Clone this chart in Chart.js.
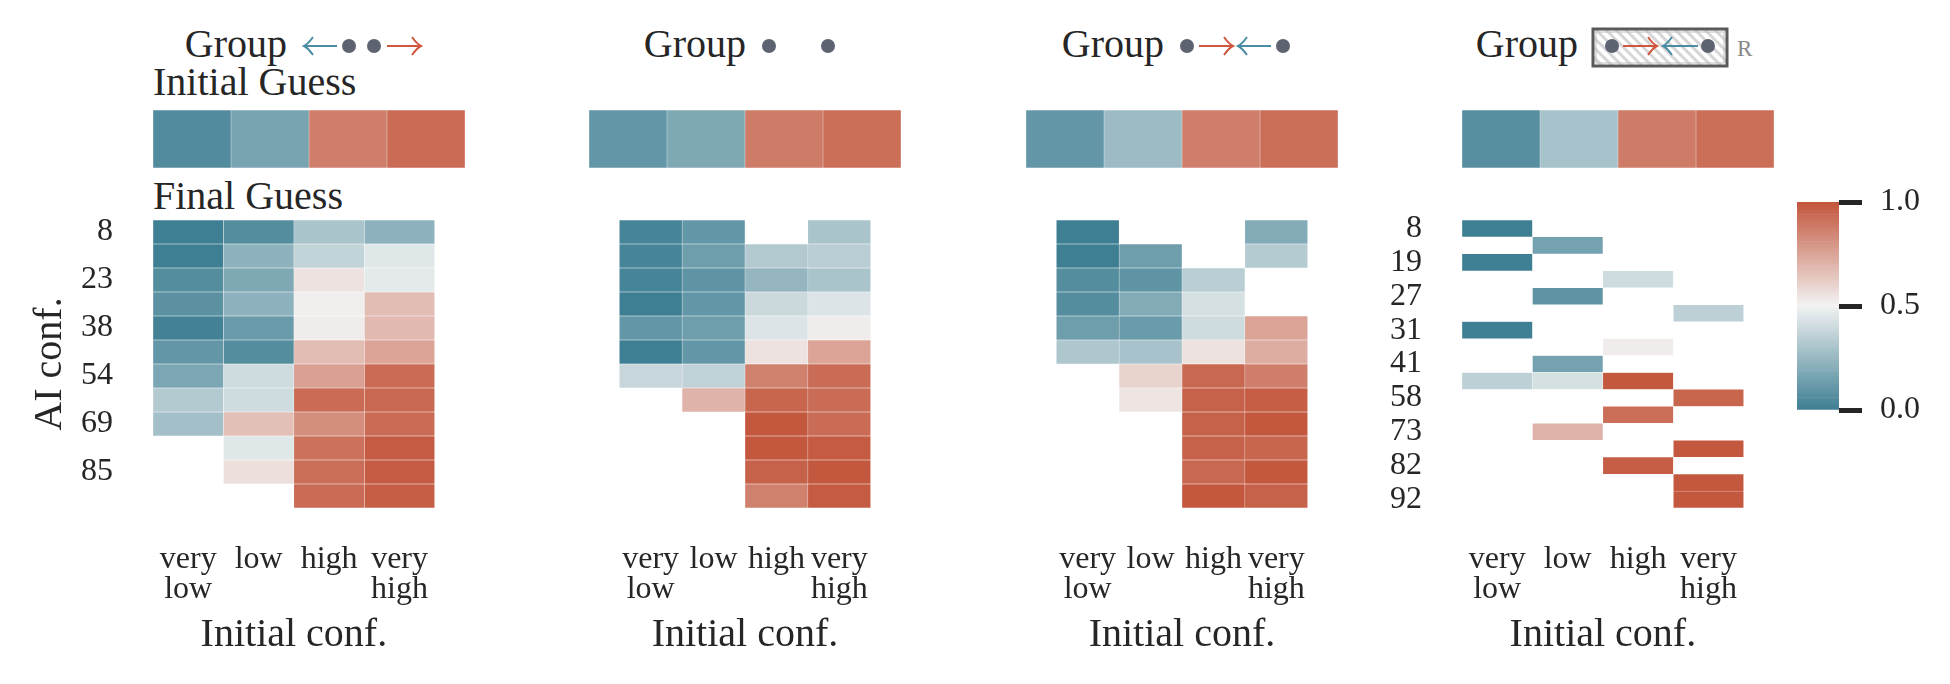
<!DOCTYPE html>
<html>
<head>
<meta charset="utf-8">
<script src="https://cdn.jsdelivr.net/npm/chart.js@4.4.1/dist/chart.umd.min.js"></script>
<style>
  body { margin: 0; background: #fff; width: 1950px; height: 684px; position: relative; overflow: hidden; }
  canvas, svg { position: absolute; }
</style>
</head>
<body>
<svg width="1950" height="684" style="left:0;top:0" font-family="Liberation Serif, serif" fill="#262626">
  <defs>
    <pattern id="hatch" width="7" height="7" patternUnits="userSpaceOnUse" patternTransform="rotate(-45)">
      <rect width="7" height="7" fill="#fff"/>
      <line x1="1.5" y1="0" x2="1.5" y2="7" stroke="#d6d6d6" stroke-width="3"/>
    </pattern>
  </defs>
  <g id="titles" font-size="40"></g>
  <g id="deco"></g>
</svg>

<canvas id="top1" width="312" height="58" style="left:153px;top:110px"></canvas>
<canvas id="top2" width="312" height="58" style="left:589px;top:110px"></canvas>
<canvas id="top3" width="312" height="58" style="left:1026px;top:110px"></canvas>
<canvas id="top4" width="312" height="58" style="left:1462px;top:110px"></canvas>

<canvas id="heat1" width="465" height="494" style="left:0px;top:190px"></canvas>
<canvas id="heat2" width="312" height="494" style="left:589px;top:190px"></canvas>
<canvas id="heat3" width="312" height="494" style="left:1026px;top:190px"></canvas>
<canvas id="heat4" width="412" height="494" style="left:1362px;top:190px"></canvas>

<canvas id="cbar" width="192" height="268" style="left:1797px;top:172px"></canvas>

<script>
// categories and tick labels
const initConfLabels = [['very', 'low'], ['low'], ['high'], ['very', 'high']];
const aiConfLabels = ['8', '', '23', '', '38', '', '54', '', '69', '', '85', ''];
const aiConfLabelsR = ['8', '', '19', '', '27', '', '31', '', '41', '', '58', '', '73', '', '82', '', '92'];
const cbarTicks = [0, 0.5, 1.0];

// initial guess (one row per panel)
const initial1 = [0.05, 0.16, 0.87, 0.93];
const initial2 = [0.10, 0.18, 0.88, 0.92];
const initial3 = [0.10, 0.26, 0.87, 0.92];
const initial4 = [0.07, 0.29, 0.88, 0.92];

// final guess, rows = AI conf. bins, cols = initial conf.
const final1 = [
  [0.00, 0.06, 0.30, 0.22],
  [0.00, 0.22, 0.37, 0.45],
  [0.06, 0.18, 0.55, 0.46],
  [0.08, 0.22, 0.51, 0.67],
  [0.01, 0.12, 0.52, 0.68],
  [0.10, 0.06, 0.67, 0.75],
  [0.17, 0.40, 0.76, 0.93],
  [0.32, 0.40, 0.93, 0.94],
  [0.28, 0.66, 0.82, 0.93],
  [null, 0.45, 0.91, 0.98],
  [null, 0.56, 0.92, 0.98],
  [null, null, 0.93, 0.97]
];
const final2 = [
  [0.02, 0.10, null, 0.30],
  [0.02, 0.13, 0.32, 0.34],
  [0.02, 0.09, 0.24, 0.30],
  [0.00, 0.10, 0.39, 0.44],
  [0.10, 0.13, 0.44, 0.52],
  [0.00, 0.10, 0.55, 0.75],
  [0.38, 0.36, 0.86, 0.93],
  [null, 0.70, 0.95, 0.93],
  [null, null, 0.99, 0.93],
  [null, null, 0.99, 0.98],
  [null, null, 0.96, 0.99],
  [null, null, 0.86, 0.98]
];
const final3 = [
  [0.00, null, null, 0.19],
  [0.00, 0.13, null, 0.33],
  [0.06, 0.09, 0.34, null],
  [0.06, 0.19, 0.42, null],
  [0.13, 0.12, 0.40, 0.75],
  [0.31, 0.29, 0.55, 0.72],
  [null, 0.60, 0.94, 0.87],
  [null, 0.54, 0.96, 0.97],
  [null, null, 0.96, 0.99],
  [null, null, 0.96, 0.95],
  [null, null, 0.94, 0.99],
  [null, null, 0.99, 0.96]
];
const final4 = [
  [0.00, null, null, null],
  [null, 0.15, null, null],
  [0.00, null, null, null],
  [null, null, 0.40, null],
  [null, 0.09, null, null],
  [null, null, null, 0.35],
  [0.00, null, null, null],
  [null, null, 0.52, null],
  [null, 0.15, null, null],
  [0.35, 0.42, 0.99, null],
  [null, null, null, 0.95],
  [null, null, 0.92, null],
  [null, 0.70, null, null],
  [null, null, null, 0.99],
  [null, null, 0.97, null],
  [null, null, null, 0.99],
  [null, null, null, 0.99]
];

const FONT = 'Liberation Serif';
const INK = '#262626';
const LOW = [63, 127, 147], MID = [242, 242, 242], HIGH = [195, 85, 59];

function cmap(v) {
  let a, b, t;
  if (v < 0.5) { a = LOW; b = MID; t = v / 0.5; }
  else { a = MID; b = HIGH; t = (v - 0.5) / 0.5; }
  const c = a.map((x, i) => Math.round(x + (b[i] - x) * t));
  return 'rgb(' + c.join(',') + ')';
}

function heatDatasets(rows) {
  return [0, 1, 2, 3].map(c => ({
    data: rows.map(r => r[c] == null ? null : [c, c + 1]),
    backgroundColor: rows.map(r => r[c] == null ? 'rgba(0,0,0,0)' : cmap(r[c])),
    borderColor: 'rgba(255,255,255,0.3)',
    borderWidth: 0.5,
    borderSkipped: false,
    grouped: false,
    barPercentage: 1,
    categoryPercentage: 1
  }));
}

const common = {
  indexAxis: 'y',
  responsive: false,
  animation: false,
  devicePixelRatio: 1,
  plugins: { legend: { display: false }, tooltip: { enabled: false } }
};

// tick padding would otherwise push the plot area down
function noVPad(s) { s.paddingTop = 0; s.paddingBottom = 0; }

function topBar(id, vals) {
  new Chart(document.getElementById(id), {
    type: 'bar',
    data: { labels: [''], datasets: heatDatasets([vals]) },
    options: Object.assign({}, common, {
      layout: { padding: 0 },
      scales: {
        x: { type: 'linear', min: 0, max: 4, display: false },
        y: { display: false }
      }
    })
  });
}

function heatmap(id, rows, labels, yOpts) {
  const y = {
    type: 'category',
    display: !!yOpts,
    grid: { display: false, drawTicks: false },
    border: { display: false },
    ticks: { autoSkip: false, padding: 40, color: INK, font: { family: FONT, size: 32 } }
  };
  if (yOpts) {
    y.afterFit = s => { s.width = yOpts.width; noVPad(s); };
    if (yOpts.title) {
      y.title = { display: true, text: yOpts.title, color: INK, font: { family: FONT, size: 40 }, padding: { top: 26, bottom: 0 } };
    }
  }
  new Chart(document.getElementById(id), {
    type: 'bar',
    data: { labels: labels, datasets: heatDatasets(rows) },
    options: Object.assign({}, common, {
      layout: { padding: { top: 30, left: 0, right: 0, bottom: 0 } },
      scales: {
        x: {
          type: 'linear', min: 0, max: 4,
          grid: { display: false, drawTicks: false },
          border: { display: false },
          afterBuildTicks: s => { s.ticks = initConfLabels.map((l, i) => ({ value: i + 0.5 })); },
          afterFit: s => { s.height = 176; },
          ticks: {
            autoSkip: false, maxRotation: 0, padding: 37, color: INK,
            font: { family: FONT, size: 32, lineHeight: '30px' },
            callback: (v, i) => initConfLabels[i]
          },
          title: { display: true, text: 'Initial conf.', color: INK, font: { family: FONT, size: 40 }, padding: { top: 0, bottom: 25 } }
        },
        y: y
      }
    })
  });
}

topBar('top1', initial1);
topBar('top2', initial2);
topBar('top3', initial3);
topBar('top4', initial4);

heatmap('heat1', final1, aiConfLabels, { width: 153, title: 'AI conf.' });
heatmap('heat2', final2, aiConfLabels, null);
heatmap('heat3', final3, aiConfLabels, null);
heatmap('heat4', final4, aiConfLabelsR, { width: 100 });

// colour bar
const cbSlices = 100;
new Chart(document.getElementById('cbar'), {
  type: 'bar',
  data: {
    labels: [''],
    datasets: Array.from({ length: cbSlices }, (_, i) => ({
      data: [[i / cbSlices, (i + 1) / cbSlices]],
      backgroundColor: cmap((i + 0.5) / cbSlices),
      borderWidth: 0,
      grouped: false,
      barPercentage: 1,
      categoryPercentage: 1
    }))
  },
  options: Object.assign({}, common, {
    indexAxis: 'x',
    layout: { padding: { top: 30, bottom: 30, left: 0, right: 0 } },
    scales: {
      x: { display: false },
      y: {
        position: 'right', min: 0, max: 1,
        afterBuildTicks: s => { s.ticks = cbarTicks.map(v => ({ value: v })); },
        afterFit: s => { s.width = 150; noVPad(s); },
        grid: { drawOnChartArea: false, drawTicks: true, tickLength: 23, tickWidth: 5, tickColor: INK },
        border: { display: false },
        ticks: { padding: 18, color: INK, font: { family: FONT, size: 32 }, callback: v => v.toFixed(1) }
      }
    }
  })
});

// titles and group glyphs
const NS = 'http://www.w3.org/2000/svg';
function el(parent, tag, attrs, text) {
  const e = document.createElementNS(NS, tag);
  for (const k in attrs) e.setAttribute(k, attrs[k]);
  if (text) e.textContent = text;
  document.getElementById(parent).appendChild(e);
  return e;
}
const titles = [
  { x: 287, y: 57, text: 'Group', anchor: 'end' },
  { x: 746, y: 57, text: 'Group', anchor: 'end' },
  { x: 1164, y: 57, text: 'Group', anchor: 'end' },
  { x: 1578, y: 57, text: 'Group', anchor: 'end' },
  { x: 153, y: 95, text: 'Initial Guess', anchor: 'start' },
  { x: 153, y: 209, text: 'Final Guess', anchor: 'start' }
];
titles.forEach(t => el('titles', 'text', { x: t.x, y: t.y, 'text-anchor': t.anchor }, t.text));

const RED = '#d0573e', BLUE = '#4a8ca3', DOT = '#5d6370';
function arrow(x0, x1, y, color) {
  // head at x1
  const d = x1 > x0 ? -1 : 1;
  el('deco', 'path', {
    d: `M${x0} ${y} L${x1} ${y} M${x1 + d * 9} ${y - 9} Q${x1 + d * 4} ${y - 2} ${x1} ${y} Q${x1 + d * 4} ${y + 2} ${x1 + d * 9} ${y + 9}`,
    stroke: color, 'stroke-width': 2, fill: 'none'
  });
}
function dot(x, y) { el('deco', 'circle', { cx: x, cy: y, r: 7, fill: DOT }); }

// panel 1
arrow(337, 304, 46, BLUE); dot(349, 46); dot(374, 46); arrow(387, 421, 46, RED);
// panel 2
dot(769, 46); dot(828, 46);
// panel 3
dot(1187, 46); arrow(1199, 1233, 46, RED); arrow(1271, 1238, 46, BLUE); dot(1283, 46);
// panel 4
el('deco', 'rect', { x: 1593, y: 29, width: 134, height: 37, fill: 'url(#hatch)', stroke: '#5a5a5a', 'stroke-width': 3 });
el('deco', 'rect', { x: 1596, y: 32, width: 128, height: 31, fill: 'none', stroke: '#bdbdbd', 'stroke-width': 1 });
dot(1612, 46); arrow(1623, 1657, 46, RED); arrow(1698, 1663, 46, BLUE); dot(1708, 46);
el('deco', 'text', { x: 1737, y: 56, 'font-size': 23, fill: '#888' }, 'R');
</script>
</body>
</html>
